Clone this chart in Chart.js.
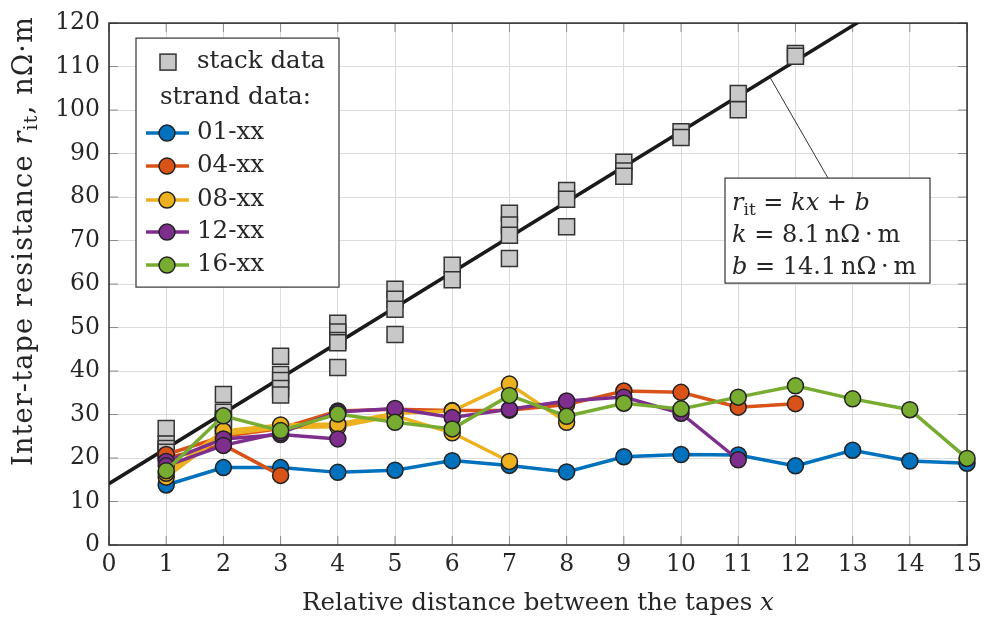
<!DOCTYPE html>
<html><head><meta charset="utf-8">
<script src="https://cdn.jsdelivr.net/npm/chart.js@4/dist/chart.umd.min.js"></script>
<style>html,body{margin:0;padding:0;background:#fff;}#wrap{width:988px;height:626px;position:relative;}</style>
</head><body><div id="wrap"><canvas id="c"></canvas></div>
<script>
// ---- data ----
const xTicks = [0,1,2,3,4,5,6,7,8,9,10,11,12,13,14,15];
const yTicks = [0,10,20,30,40,50,60,70,80,90,100,110,120];
const distances = [1,2,3,4,5,6,7,8,9,10,11,12,13,14,15];

// stack data (gray squares)
const stackX = [1,1,1,1, 2,2,2,2, 3,3,3,3,3, 4,4,4,4,4, 5,5,5,5, 6,6, 7,7,7,7, 8,8,8, 9,9,9, 10,10, 11,11, 12,12];
const stackY = [26.8,23.2,22.2,21.3, 34.6,30.5,29.0,27.5, 43.4,39.2,37.8,36.0,34.5, 51.0,49.0,47.0,46.5,40.8,
                58.8,56.5,54.2,48.4, 64.3,61.0, 76.3,73.6,71.2,65.9, 81.5,79.5,73.2, 88.0,86.0,84.8,
                95.0,93.7, 103.8,100.1, 113.0,112.4];

// linear fit r_it = k x + b
const fitK = 8.1, fitB = 14.1;
const fitX = [0, 15];
const fitY = [14.1, 135.6];

// strand data
const s01  = [13.8,17.8,17.8,16.7,17.2,19.4,18.3,16.8,20.3,20.8,20.7,18.2,21.8,19.3,18.8];
const s04a = [20.0,23.0,16.0];
const s04b = [20.8,25.0,26.8,30.8,31.2,30.9,31.0,32.3,35.4,35.1,31.7,32.5];
const s08a = [15.6,25.4,27.0,27.2,29.7,25.8,19.2];
const s08b = [16.5,26.2,27.6,27.8,30.3,30.8,37.0,28.2];
const s12a = [19.2,24.4,25.4,24.4];
const s12b = [18.2,22.9,25.8,30.6,31.4,29.3,31.2,33.1,34.0,30.3,19.6];
const s16  = [17.1,29.7,26.3,30.1,28.2,26.7,34.4,29.6,32.6,31.3,34.0,36.6,33.6,31.1,19.9];

const groupLabels = ['01-xx','04-xx','08-xx','12-xx','16-xx'];
const groupColors = ['#0072BD','#D95319','#EDB120','#7E2F8E','#77AC30'];

const FONT = "'DejaVu Serif', 'Liberation Serif', serif";

function pts(vals){ return vals.map((v,i)=>({x:distances[i], y:v})); }
function strand(vals, gi, order){
  return {type:'line', label:groupLabels[gi], data:pts(vals), borderColor:groupColors[gi],
    backgroundColor:groupColors[gi], borderWidth:3.5, pointRadius:8, pointHoverRadius:8,
    pointBorderColor:'#222', pointBorderWidth:1.5, pointBackgroundColor:groupColors[gi],
    tension:0, order:order, clip:false};
}

const datasets = [
  {type:'line', label:'fit', data:fitX.map((x,i)=>({x:x,y:fitY[i]})), borderColor:'#1a1a1a',
   borderWidth:3.5, pointRadius:0, order:100},
  {type:'scatter', label:'stack data', data:stackX.map((x,i)=>({x:x,y:stackY[i]})), pointStyle:'rect',
   pointRadius:11.3, pointHoverRadius:11.3, backgroundColor:'#c8c8c8', borderColor:'#333', borderWidth:1.5, order:90, clip:false},
  strand(s01,0,60),
  strand(s04a,1,55), strand(s04b,1,54),
  strand(s08a,2,45), strand(s08b,2,44),
  strand(s12a,3,35), strand(s12b,3,34),
  strand(s16,4,20)
];

function drawRuns(ctx, runs, x, y){
  let cx = x;
  for(const r of runs){
    ctx.font = r.font;
    ctx.fillText(r.t, cx, y + (r.dy||0));
    cx += ctx.measureText(r.t).width;
  }
  return cx - x;
}
function runsWidth(ctx, runs){
  let w=0; for(const r of runs){ ctx.font=r.font; w+=ctx.measureText(r.t).width; } return w;
}

const frame = {
  id:'frame',
  beforeDatasetsDraw(chart){
    const ctx = chart.ctx, ca = chart.chartArea;
    const xs = chart.scales.x, ys = chart.scales.y;
    ctx.save();
    ctx.strokeStyle = '#8a8a8a'; ctx.lineWidth = 1;
    ctx.beginPath();
    xTicks.forEach(v=>{ const p = xs.getPixelForValue(v);
      ctx.moveTo(p, ca.bottom); ctx.lineTo(p, ca.bottom-9);
      ctx.moveTo(p, ca.top); ctx.lineTo(p, ca.top+9); });
    yTicks.forEach(v=>{ const p = ys.getPixelForValue(v);
      ctx.moveTo(ca.left, p); ctx.lineTo(ca.left+9, p);
      ctx.moveTo(ca.right, p); ctx.lineTo(ca.right-9, p); });
    ctx.stroke();
    ctx.strokeStyle = '#262626'; ctx.lineWidth = 1.5;
    ctx.strokeRect(ca.left, ca.top, ca.right-ca.left, ca.bottom-ca.top);
    ctx.restore();
  }
};

const decor = {
  id:'decor',
  afterDatasetsDraw(chart){
    const ctx = chart.ctx, ca = chart.chartArea;
    const xs = chart.scales.x, ys = chart.scales.y;
    ctx.save();
    // legend
    const lx = ca.left+27, ly = ca.top+15, lw = 203, lh = 249;
    ctx.fillStyle = '#fff'; ctx.fillRect(lx, ly, lw, lh);
    ctx.strokeStyle = '#333'; ctx.lineWidth = 1.2; ctx.strokeRect(lx, ly, lw, lh);
    ctx.textBaseline = 'middle'; ctx.textAlign = 'left';
    const LF = "24.5px " + FONT;
    ctx.fillStyle = '#c8c8c8'; ctx.fillRect(lx+24, ly+16, 16, 16);
    ctx.strokeStyle = '#333'; ctx.lineWidth = 1.5; ctx.strokeRect(lx+24, ly+16, 16, 16);
    ctx.fillStyle = '#262626'; ctx.font = LF;
    ctx.fillText('stack data', lx+61, ly+24);
    ctx.fillText('strand data:', lx+24, ly+60);
    const rowY = [95,128,162,194,227];
    groupLabels.forEach((lab,i)=>{
      const y = ly+rowY[i];
      ctx.strokeStyle = groupColors[i]; ctx.lineWidth = 3.5;
      ctx.beginPath(); ctx.moveTo(lx+10,y); ctx.lineTo(lx+53,y); ctx.stroke();
      ctx.beginPath(); ctx.arc(lx+31,y,8,0,Math.PI*2);
      ctx.fillStyle = groupColors[i]; ctx.fill();
      ctx.strokeStyle = '#222'; ctx.lineWidth = 1.5; ctx.stroke();
      ctx.fillStyle = '#262626'; ctx.font = LF;
      ctx.fillText(lab, lx+61, y);
    });

    // annotation
    const ax = xs.getPixelForValue(11.55), ay = ys.getPixelForValue(fitK*11.55+fitB);
    const bx = ca.left+616, by = ca.top+155, bw = 205, bh = 105;
    ctx.strokeStyle = '#333'; ctx.lineWidth = 1;
    ctx.beginPath(); ctx.moveTo(ax, ay); ctx.lineTo(bx+103, by); ctx.stroke();
    ctx.fillStyle = '#fff'; ctx.fillRect(bx, by, bw, bh);
    ctx.strokeStyle = '#333'; ctx.lineWidth = 1.2; ctx.strokeRect(bx, by, bw, bh);
    ctx.fillStyle = '#262626'; ctx.textBaseline = 'alphabetic';
    const R = "24px " + FONT, I = "italic 24px " + FONT, S = "17px " + FONT;
    const T = '\u2009';
    drawRuns(ctx, [{t:'r',font:I},{t:'it',font:S,dy:5},{t:' = ',font:R},{t:'kx',font:I},{t:' + ',font:R},{t:'b',font:I}], bx+7, by+32);
    drawRuns(ctx, [{t:'k',font:I},{t:' = 8.1'+T+'nΩ'+T+'·'+T+'m',font:R}], bx+7, by+64);
    drawRuns(ctx, [{t:'b',font:I},{t:' = 14.1'+T+'nΩ'+T+'·'+T+'m',font:R}], bx+7, by+96);

    // x axis title
    const xr = [{t:'Relative distance between the tapes ',font:"24.5px "+FONT},{t:'x',font:"italic 24.5px "+FONT}];
    const xw = runsWidth(ctx, xr);
    ctx.textBaseline = 'middle';
    drawRuns(ctx, xr, (ca.left+ca.right)/2 - xw/2, 604);

    // y axis title
    ctx.letterSpacing = '1.2px';
    const yr = [{t:'Inter-tape resistance ',font:"27px "+FONT},{t:'r',font:"italic 27px "+FONT},{t:'it',font:"19px "+FONT,dy:7},{t:', nΩ·m',font:"27px "+FONT}];
    const yw = runsWidth(ctx, yr);
    ctx.save();
    ctx.translate(25, 241); ctx.rotate(-Math.PI/2);
    drawRuns(ctx, yr, -yw/2, 0);
    ctx.restore();
    ctx.letterSpacing = '0px';
    ctx.restore();
  }
};

new Chart(document.getElementById('c'), {
  data:{datasets:datasets},
  options:{
    responsive:true, maintainAspectRatio:false, animation:false,
    layout:{padding:{top:13,right:18,left:0,bottom:0}},
    plugins:{legend:{display:false}, tooltip:{enabled:false}},
    scales:{
      x:{type:'linear', min:0, max:15,
         afterBuildTicks(s){ s.ticks = xTicks.map(v=>({value:v})); },
         afterFit(s){ s.height = 81; },
         grid:{color:'#dcdcdc', lineWidth:1, drawTicks:false},
         border:{display:false},
         ticks:{font:{family:FONT, size:23.5}, color:'#262626', padding:6, maxRotation:0, autoSkip:false}},
      y:{type:'linear', min:0, max:120,
         afterBuildTicks(s){ s.ticks = yTicks.map(v=>({value:v})); },
         afterFit(s){ s.width = 109; },
         grid:{color:'#dcdcdc', lineWidth:1, drawTicks:false},
         border:{display:false},
         ticks:{font:{family:FONT, size:23.5}, color:'#262626', padding:9, autoSkip:false}}
    }
  },
  plugins:[frame, decor]
});
</script></body></html>
